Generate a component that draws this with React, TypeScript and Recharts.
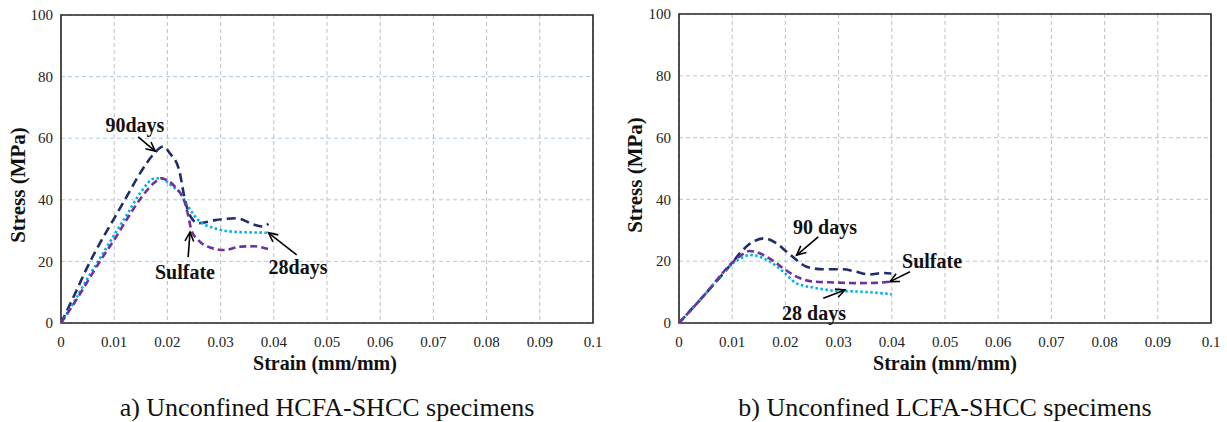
import React from 'react';
import {
  LineChart,
  Line,
  XAxis,
  YAxis,
  CartesianGrid,
  ReferenceArea,
  ReferenceDot,
  ReferenceLine,
} from 'recharts';

// axes
const xTicks = [0, 0.01, 0.02, 0.03, 0.04, 0.05, 0.06, 0.07, 0.08, 0.09, 0.1];
const xTickLabels = ['0', '0.01', '0.02', '0.03', '0.04', '0.05', '0.06', '0.07', '0.08', '0.09', '0.1'];
const yTicks = [0, 20, 40, 60, 80, 100];

// a) HCFA-SHCC
const hcfa90Strain = [0, 0.0025, 0.005, 0.0075, 0.01, 0.0125, 0.015, 0.0175, 0.0192, 0.0205, 0.0222, 0.0233, 0.0242, 0.0258, 0.029, 0.033, 0.0365, 0.038, 0.039];
const hcfa90Stress = [0, 9, 18.3, 26.5, 34, 41.5, 49, 55, 57.3, 55, 49.7, 40, 35, 32.4, 33.4, 34, 31.8, 31.3, 32.2];
const hcfa28Strain = [0, 0.0025, 0.005, 0.0075, 0.01, 0.0125, 0.015, 0.0177, 0.019, 0.0205, 0.0224, 0.0239, 0.0258, 0.029, 0.0327, 0.036, 0.039];
const hcfa28Stress = [0, 7, 14.5, 21.5, 28.6, 35.5, 42.5, 47, 46.8, 45, 42.1, 37.8, 33.4, 30.7, 29.6, 29.4, 29.3];
const hcfaSulfStrain = [0, 0.0025, 0.005, 0.0075, 0.01, 0.0125, 0.015, 0.0175, 0.0189, 0.02, 0.0214, 0.0233, 0.0239, 0.0245, 0.0258, 0.0276, 0.0307, 0.0338, 0.0363, 0.039];
const hcfaSulfStress = [0, 6.5, 13.5, 20.5, 27, 34, 40.5, 45.5, 47, 46.3, 44.3, 38.9, 35, 30.2, 26.9, 24.8, 23.7, 24.8, 24.9, 24];

// b) LCFA-SHCC
const lcfa90Strain = [0, 0.005, 0.01, 0.0114, 0.0139, 0.0161, 0.0183, 0.0202, 0.0221, 0.024, 0.0271, 0.0308, 0.0333, 0.0358, 0.0383, 0.0399];
const lcfa90Stress = [0, 9.5, 19.5, 22.5, 26.3, 27.4, 25.8, 23.1, 20.4, 18.2, 17.4, 17.4, 16.6, 15.7, 16.2, 16];
const lcfaSulfStrain = [0, 0.005, 0.01, 0.012, 0.0133, 0.0145, 0.0164, 0.018, 0.0196, 0.0221, 0.0252, 0.0296, 0.0333, 0.037, 0.0396];
const lcfaSulfStress = [0, 9.5, 19.5, 22.3, 23.3, 23, 21.5, 19.8, 17.7, 15, 13.4, 13.1, 12.9, 13, 13.4];
const lcfa28Strain = [0, 0.005, 0.01, 0.012, 0.0133, 0.0145, 0.0164, 0.018, 0.0196, 0.0221, 0.0252, 0.0296, 0.0333, 0.037, 0.04];
const lcfa28Stress = [0, 9.5, 19.2, 21.3, 22, 21.8, 20.5, 18.8, 16.6, 12.8, 11.5, 10.4, 10.2, 9.8, 9.3];

// annotations: [label, textX, textY, arrowFromX, arrowFromY, arrowToX, arrowToY]
type Note = [string, number, number, number, number, number, number];
const hcfaNotes: Note[] = [
  ['90days', 0.0139, 64.3, 0.0145, 60.4, 0.0177, 55.8],
  ['Sulfate', 0.0233, 16.7, 0.0239, 21.4, 0.02425, 29.5],
  ['28days', 0.04455, 18.2, 0.0443, 22.1, 0.039, 29.3],
];
const lcfaNotes: Note[] = [
  ['90 days', 0.02744, 31.2, 0.02618, 27.9, 0.02212, 22.0],
  ['Sulfate', 0.04756, 20.1, 0.04342, 16.6, 0.03966, 13.4],
  ['28 days', 0.02538, 3.1, 0.02712, 8.0, 0.0312, 10.7],
];

const zip = (xs: number[], ys: number[]) => xs.map((x, i) => ({ x, y: ys[i] }));

const NAVY = '#1F2D6B';
const PURPLE = '#7030A0';
const CYAN = '#00B0F0';
const SERIF = 'Liberation Serif, Times New Roman, serif';

function Arrow(p: any) {
  const { x1, y1, x2, y2 } = p;
  const a = Math.atan2(y2 - y1, x2 - x1);
  const len = 10;
  const spread = 0.45;
  const ax = x2 - len * Math.cos(a - spread);
  const ay = y2 - len * Math.sin(a - spread);
  const bx = x2 - len * Math.cos(a + spread);
  const by = y2 - len * Math.sin(a + spread);
  return (
    <g stroke="#000" strokeWidth={1.6} fill="none">
      <line x1={x1} y1={y1} x2={x2} y2={y2} />
      <polyline points={`${ax},${ay} ${x2},${y2} ${bx},${by}`} />
    </g>
  );
}

const XTick = (p: any) => (
  <text x={p.x} y={p.y} dy="0.71em" textAnchor="middle" fontFamily={SERIF} fontSize={15} fill="#222">
    {xTickLabels[p.index]}
  </text>
);

const YTick = (p: any) => (
  <text x={p.x} y={p.y} dy="0.35em" textAnchor="end" fontFamily={SERIF} fontSize={15} fill="#222">
    {p.payload.value}
  </text>
);

interface PanelProps {
  width: number;
  top: number;
  right: number;
  series: { data: { x: number; y: number }[]; color: string; dash: string; key: string }[];
  notes: Note[];
}

function Panel({ width, top, right, series, notes }: PanelProps) {
  return (
    <LineChart width={width} height={380} margin={{ top, right, left: 0, bottom: 0 }}>
      <CartesianGrid horizontal={false} stroke="#BFBFBF" strokeDasharray="4 3" />
      <CartesianGrid vertical={false} stroke="#A9CBEA" strokeDasharray="4 3" />
      <XAxis
        type="number"
        dataKey="x"
        domain={[0, 0.1]}
        ticks={xTicks}
        allowDataOverflow
        height={57}
        axisLine={false}
        tickLine={false}
        tickSize={0}
        tickMargin={13}
        tick={<XTick />}
        interval={0}
      />
      <YAxis
        type="number"
        domain={[0, 100]}
        ticks={yTicks}
        width={61}
        axisLine={false}
        tickLine={false}
        tickSize={0}
        tickMargin={8}
        tick={<YTick />}
        interval={0}
      />
      <ReferenceArea x1={0} x2={0.1} y1={0} y2={100} fill="none" fillOpacity={0} stroke="#262626" strokeWidth={1.6} />
      {series.map((s) => (
        <Line
          key={s.key}
          data={s.data}
          dataKey="y"
          type="monotone"
          stroke={s.color}
          strokeWidth={2.6}
          strokeDasharray={s.dash}
          dot={false}
          activeDot={false}
          isAnimationActive={false}
        />
      ))}
      {notes.map((n) => (
        <ReferenceLine
          key={'a' + n[0]}
          segment={[{ x: n[3], y: n[4] }, { x: n[5], y: n[6] }]}
          shape={(p: any) => <Arrow {...p} />}
        />
      ))}
      {notes.map((n) => (
        <ReferenceDot
          key={'t' + n[0]}
          x={n[1]}
          y={n[2]}
          r={0}
          shape={(p: any) => (
            <text
              x={p.cx}
              y={p.cy}
              dy="0.35em"
              textAnchor="middle"
              fontFamily={SERIF}
              fontWeight="bold"
              fontSize={20}
              fill="#111"
            >
              {n[0]}
            </text>
          )}
        />
      ))}
    </LineChart>
  );
}

export default function App() {
  const hcfaSeries = [
    { key: '90', data: zip(hcfa90Strain, hcfa90Stress), color: NAVY, dash: '9 5' },
    { key: '28', data: zip(hcfa28Strain, hcfa28Stress), color: CYAN, dash: '2.5 2.5' },
    { key: 'S', data: zip(hcfaSulfStrain, hcfaSulfStress), color: PURPLE, dash: '7 4' },
  ];
  const lcfaSeries = [
    { key: '90', data: zip(lcfa90Strain, lcfa90Stress), color: NAVY, dash: '9 5' },
    { key: '28', data: zip(lcfa28Strain, lcfa28Stress), color: CYAN, dash: '2.5 2.5' },
    { key: 'S', data: zip(lcfaSulfStrain, lcfaSulfStress), color: PURPLE, dash: '7 4' },
  ];

  return (
    <div style={{ position: 'absolute', left: 0, top: 0, width: 1227, height: 422, background: '#fff', overflow: 'hidden' }}>
      <div style={{ position: 'absolute', left: 0, top: 0 }}>
        <Panel width={620} top={15} right={27} series={hcfaSeries} notes={hcfaNotes} />
      </div>
      <div style={{ position: 'absolute', left: 618, top: 0 }}>
        <Panel width={609} top={14} right={16} series={lcfaSeries} notes={lcfaNotes} />
      </div>
      <svg width={1227} height={422} style={{ position: 'absolute', left: 0, top: 0, pointerEvents: 'none' }}>
        <g fontFamily={SERIF} fill="#111">
          <text x={17.5} y={185} transform="rotate(-90 17.5 185)" textAnchor="middle" dy="0.35em" fontWeight="bold" fontSize={21}>
            Stress (MPa)
          </text>
          <text x={634.5} y={175} transform="rotate(-90 634.5 175)" textAnchor="middle" dy="0.35em" fontWeight="bold" fontSize={21}>
            Stress (MPa)
          </text>
          <text x={325} y={363} textAnchor="middle" dy="0.35em" fontWeight="bold" fontSize={20}>
            Strain (mm/mm)
          </text>
          <text x={945} y={363} textAnchor="middle" dy="0.35em" fontWeight="bold" fontSize={20}>
            Strain (mm/mm)
          </text>
          <text x={327} y={416} textAnchor="middle" fontSize={26}>
            a) Unconfined HCFA-SHCC specimens
          </text>
          <text x={945} y={416} textAnchor="middle" fontSize={26}>
            b) Unconfined LCFA-SHCC specimens
          </text>
        </g>
      </svg>
    </div>
  );
}
